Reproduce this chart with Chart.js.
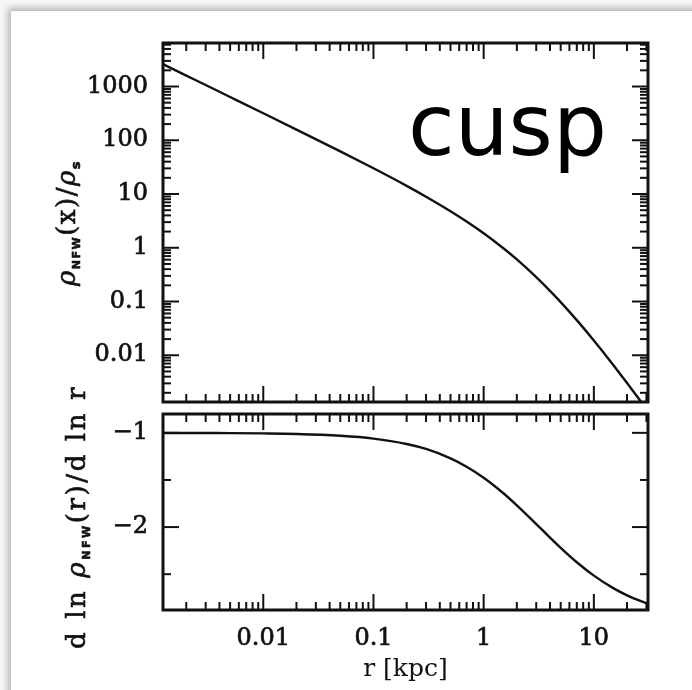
<!DOCTYPE html>
<html><head><meta charset="utf-8">
<script src="https://cdn.jsdelivr.net/npm/chart.js@4.4.1/dist/chart.umd.min.js"></script>
<style>
html,body{margin:0;padding:0;background:#f7f7f7;width:692px;height:690px;overflow:hidden;}
#card{position:absolute;left:11px;top:11px;width:700px;height:700px;background:#fff;box-shadow:-3px -3px 7px rgba(0,0,0,0.28);}
canvas{position:absolute;left:0;top:0;width:692px;height:690px;}
</style></head><body>
<div id="card"></div>
<canvas id="topChart" width="692" height="690"></canvas>
<canvas id="botChart" width="692" height="690"></canvas>
<script>
// ---- data ----
const radiusKpc = [0.0012, 0.002, 0.003, 0.005, 0.01, 0.02, 0.05, 0.1, 0.2, 0.3, 0.5, 0.7, 1, 1.5, 2, 3, 4, 5, 7, 10, 15, 20, 25, 32];
const densityRatio = [2665, 1598, 1065, 638, 318, 158, 62.0, 30.1, 14.2, 8.92, 4.79, 3.08, 1.86, 0.989, 0.606, 0.284, 0.158, 0.0975, 0.0450, 0.0188, 0.00660, 0.00304, 0.00165, 0.00083];
const logSlope = [-1.001, -1.001, -1.002, -1.003, -1.006, -1.012, -1.031, -1.061, -1.118, -1.171, -1.270, -1.359, -1.476, -1.638, -1.769, -1.968, -2.111, -2.220, -2.373, -2.515, -2.648, -2.724, -2.773, -2.818];
const xTickLabels = [0.01, 0.1, 1, 10];
const densityTickLabels = [1000, 100, 10, 1, 0.1, 0.01];
const slopeTickLabels = [-1, -2];
const slopeMinorTicks = [-1.5, -2.5];
const xRange = [0.00123, 31];
const densityRange = [0.00135, 6450];
const slopeRange = [-2.88, -0.80];
const panelText = 'cusp';

const INK = '#111';
const SERIF = '"DejaVu Serif", serif';

function logTicks(min, max) {
  const out = [];
  for (let e = -5; e <= 5; e++) {
    for (let m = 1; m <= 9; m++) {
      const v = m * Math.pow(10, e);
      if (v >= min && v <= max) out.push({ v: v, major: m === 1 });
    }
  }
  return out;
}

function drawRotTitle(ctx, cx, cy, parts, spacing) {
  ctx.save();
  ctx.translate(cx, cy);
  ctx.rotate(-Math.PI / 2);
  ctx.textBaseline = 'alphabetic';
  ctx.textAlign = 'left';
  ctx.fillStyle = INK;
  ctx.strokeStyle = INK;
  ctx.lineWidth = 0.6;
  let total = 0;
  parts.forEach(p => {
    ctx.font = p.font;
    p.w = 0;
    for (const ch of p.t) p.w += ctx.measureText(ch).width + spacing;
    total += p.w;
  });
  let x = -total / 2;
  parts.forEach(p => {
    ctx.font = p.font;
    let xx = x;
    for (const ch of p.t) {
      ctx.fillText(ch, xx, p.dy || 0);
      ctx.strokeText(ch, xx, p.dy || 0);
      xx += ctx.measureText(ch).width + spacing;
    }
    x += p.w;
  });
  ctx.restore();
}

const framePlugin = {
  id: 'frame',
  afterDraw(chart, args, opts) {
    const { ctx, chartArea: a, scales } = chart;
    ctx.save();
    ctx.strokeStyle = INK;
    ctx.lineWidth = 2;
    const seg = (x1, y1, x2, y2) => { ctx.beginPath(); ctx.moveTo(x1, y1); ctx.lineTo(x2, y2); ctx.stroke(); };
    opts.xTicks.forEach(t => {
      const px = scales.x.getPixelForValue(t.v);
      const L = t.major ? 16 : 8;
      seg(px, a.bottom, px, a.bottom - L);
      seg(px, a.top, px, a.top + L);
    });
    opts.yTicks.forEach(t => {
      const py = scales.y.getPixelForValue(t.v);
      const L = t.major ? 16 : 8;
      seg(a.left, py, a.left + L, py);
      seg(a.right, py, a.right - L, py);
    });
    ctx.lineWidth = 3;
    ctx.strokeRect(a.left, a.top, a.right - a.left, a.bottom - a.top);
    if (opts.title) drawRotTitle(ctx, opts.title.x, opts.title.y, opts.title.parts, opts.title.spacing);
    if (opts.label) {
      ctx.fillStyle = '#000';
      ctx.font = opts.label.font;
      ctx.textBaseline = 'alphabetic';
      ctx.textAlign = 'left';
      ctx.fillText(opts.label.text, opts.label.x, opts.label.y);
    }
    ctx.restore();
  }
};

const xTickObjs = logTicks(xRange[0], xRange[1]);
const densTickObjs = logTicks(densityRange[0], densityRange[1]);
const slopeTickObjs = slopeTickLabels.map(v => ({ v: v, major: true })).concat(slopeMinorTicks.map(v => ({ v: v, major: false })));

const tickFont = { family: SERIF, size: 24 };

function lineDataset(ys) {
  return {
    data: radiusKpc.map((r, i) => ({ x: r, y: ys[i] })),
    borderColor: INK, borderWidth: 2.4, pointRadius: 0, fill: false,
    cubicInterpolationMode: 'monotone'
  };
}

new Chart(document.getElementById('topChart'), {
  type: 'line',
  data: { datasets: [lineDataset(densityRatio)] },
  options: {
    responsive: false, animation: false, devicePixelRatio: 1,
    layout: { padding: { left: 0, top: 43, right: 44, bottom: 288 } },
    plugins: {
      legend: { display: false }, tooltip: { enabled: false },
      frame: {
        xTicks: xTickObjs, yTicks: densTickObjs,
        title: { x: 75, y: 223, spacing: 1.5, parts: [
          { t: 'ρ', font: 'italic 26px ' + SERIF },
          { t: 'NFW', font: 'bold 11px "DejaVu Sans"', dy: 5 },
          { t: '(x)/', font: '26px ' + SERIF },
          { t: 'ρ', font: 'italic 26px ' + SERIF },
          { t: 's', font: 'bold 13px "DejaVu Sans"', dy: 5 }
        ] },
        label: { text: panelText, font: '85px "DejaVu Sans"', x: 408, y: 155 }
      }
    },
    scales: {
      x: { type: 'logarithmic', min: xRange[0], max: xRange[1], display: false },
      y: {
        type: 'logarithmic', min: densityRange[0], max: densityRange[1],
        afterBuildTicks: s => { s.ticks = densityTickLabels.map(v => ({ value: v })); },
        afterFit: s => { s.width = 163; },
        grid: { display: false, drawTicks: false }, border: { display: false },
        ticks: { font: tickFont, color: INK, textStrokeColor: INK, textStrokeWidth: 0.7, padding: 15, autoSkip: false, callback: v => String(v) }
      }
    }
  },
  plugins: [framePlugin]
});

new Chart(document.getElementById('botChart'), {
  type: 'line',
  data: { datasets: [lineDataset(logSlope)] },
  options: {
    responsive: false, animation: false, devicePixelRatio: 1,
    layout: { padding: { left: 0, top: 414, right: 44, bottom: 0 } },
    plugins: {
      legend: { display: false }, tooltip: { enabled: false },
      frame: {
        xTicks: xTickObjs, yTicks: slopeTickObjs,
        title: { x: 85, y: 517, spacing: 2.6, parts: [
          { t: 'd ln ', font: '26px ' + SERIF },
          { t: 'ρ', font: 'italic 26px ' + SERIF },
          { t: 'NFW', font: 'bold 11px "DejaVu Sans"', dy: 5 },
          { t: '(r)/d ln r', font: '26px ' + SERIF }
        ] }
      }
    },
    scales: {
      x: {
        type: 'logarithmic', min: xRange[0], max: xRange[1],
        afterBuildTicks: s => { s.ticks = xTickLabels.map(v => ({ value: v })); },
        afterFit: s => { s.height = 80; },
        grid: { display: false, drawTicks: false }, border: { display: false },
        ticks: { font: tickFont, color: INK, textStrokeColor: INK, textStrokeWidth: 0.7, padding: 14, autoSkip: false, maxRotation: 0, callback: v => String(v) },
        title: { display: true, text: 'r [kpc]', font: { family: SERIF, size: 25 }, color: INK, padding: { top: 0, bottom: 6 } }
      },
      y: {
        type: 'linear', min: slopeRange[0], max: slopeRange[1],
        afterBuildTicks: s => { s.ticks = slopeTickLabels.map(v => ({ value: v })); },
        afterFit: s => { s.width = 163; },
        grid: { display: false, drawTicks: false }, border: { display: false },
        ticks: { font: tickFont, color: INK, textStrokeColor: INK, textStrokeWidth: 0.7, padding: 15, autoSkip: false, callback: v => '\u2212' + Math.abs(v) }
      }
    }
  },
  plugins: [framePlugin]
});
</script>
</body></html>
